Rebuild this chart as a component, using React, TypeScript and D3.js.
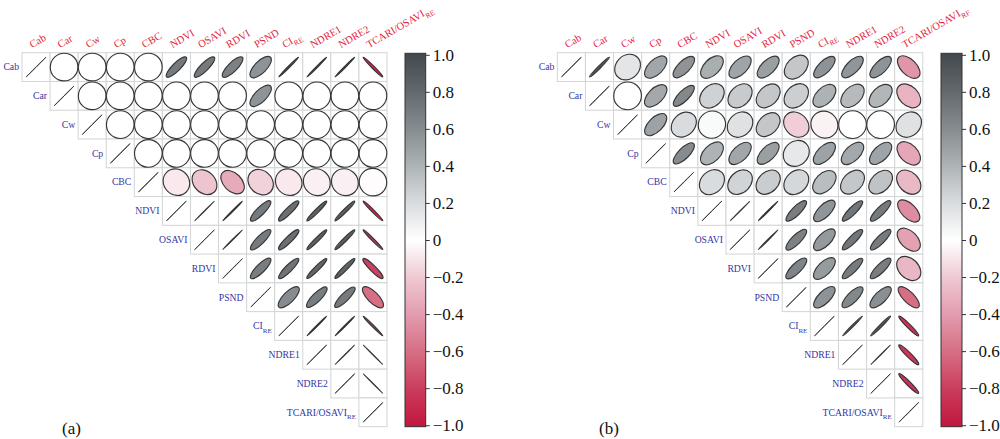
import React, { useEffect, useRef } from 'react';
import * as d3 from 'd3';

// variable names, with optional subscript
const varNames = ['Cab', 'Car', 'Cw', 'Cp', 'CBC', 'NDVI', 'OSAVI', 'RDVI', 'PSND', 'CI', 'NDRE1', 'NDRE2', 'TCARI/OSAVI'];
const rowSubs = ['', '', '', '', '', '', '', '', '', 'RE', '', '', 'RE'];
const headerSubsA = ['', '', '', '', '', '', '', '', '', 'RE', '', '', 'RE'];
const headerSubsB = ['', '', '', '', '', '', '', '', '', 'RE', '', '', 'RF'];

// upper triangle, each row starts at the diagonal
const corrA = [
  [1, 0, 0, 0, 0, 0.7, 0.7, 0.66, 0.56, 0.93, 0.94, 0.94, -0.9],
  [1, 0, 0, 0, 0, 0, 0, 0.56, 0, 0, 0, 0],
  [1, 0, 0, 0, 0, 0, 0, 0, 0, 0, 0],
  [1, 0, 0, 0, 0, 0, 0, 0, 0, 0],
  [1, -0.08, -0.22, -0.34, -0.17, -0.08, -0.06, -0.06, -0.01],
  [1, 0.99, 0.95, 0.7, 0.76, 0.85, 0.86, -0.9],
  [1, 0.97, 0.7, 0.76, 0.85, 0.86, -0.9],
  [1, 0.68, 0.74, 0.82, 0.83, -0.78],
  [1, 0.6, 0.68, 0.7, -0.6],
  [1, 0.95, 0.95, -0.92],
  [1, 0.995, -0.985],
  [1, -0.985],
  [1],
];

const corrB = [
  [1, 0.9, 0.15, 0.46, 0.56, 0.42, 0.47, 0.5, 0.3, 0.56, 0.55, 0.56, -0.43],
  [1, 0, 0.45, 0.62, 0.25, 0.28, 0.3, 0.26, 0.4, 0.36, 0.38, -0.3],
  [1, 0.48, 0.2, 0.03, 0.17, 0.3, -0.18, -0.05, 0, 0, 0.17],
  [1, 0.6, 0.4, 0.46, 0.5, 0.13, 0.48, 0.45, 0.47, -0.35],
  [1, 0.2, 0.24, 0.27, 0.22, 0.35, 0.3, 0.32, -0.27],
  [1, 0.99, 0.95, 0.68, 0.55, 0.72, 0.7, -0.47],
  [1, 0.96, 0.66, 0.53, 0.72, 0.7, -0.38],
  [1, 0.64, 0.52, 0.7, 0.68, -0.28],
  [1, 0.56, 0.62, 0.58, -0.6],
  [1, 0.93, 0.9, -0.85],
  [1, 0.99, -0.82],
  [1, -0.84],
  [1],
];

const colorTicks = [-1, -0.8, -0.6, -0.4, -0.2, 0, 0.2, 0.4, 0.6, 0.8, 1];
const colorStops = [-1, -0.8, -0.6, -0.4, -0.2, 0, 0.2, 0.4, 0.6, 0.8, 1];
const colorHex = ['#c1173f', '#cb3c5c', '#d66e84', '#e29cae', '#efc9d3', '#ffffff', '#d9dcde', '#adb2b5', '#868b8f', '#62686b', '#42484b'];

const panels = [
  { corr: corrA, headerSubs: headerSubsA, gx: 22, gy: 52.7, gw: 365, gh: 374, bx: 405, bw: 20.7, tag: '(a)', tagX: 62 },
  { corr: corrB, headerSubs: headerSubsB, gx: 557.3, gy: 52.7, gw: 365.5, gh: 374, bx: 941, bw: 21, tag: '(b)', tagX: 599 },
];

const serifFont = "'Liberation Serif', 'Times New Roman', Times, serif";

function addLabel(sel: any, name: string, sub: string, subSize: number) {
  sel.append('tspan').text(name);
  if (sub) sel.append('tspan').style('font-size', `${subSize}px`).attr('dy', 3.5).text(sub);
}

export default function App() {
  const svgRef = useRef<SVGSVGElement>(null);

  useEffect(() => {
    if (!svgRef.current) return;
    const svg = d3.select(svgRef.current);
    svg.selectAll('*').remove();

    const color = d3.scaleLinear<string>().domain(colorStops).range(colorHex).clamp(true);
    const n = varNames.length;
    const defs = svg.append('defs');

    panels.forEach((p, pi) => {
      const g = svg.append('g');
      const x = d3.scaleBand<number>().domain(d3.range(n)).range([p.gx, p.gx + p.gw]);
      const y = d3.scaleBand<number>().domain(d3.range(n)).range([p.gy, p.gy + p.gh]);
      const cw = x.bandwidth();
      const ch = y.bandwidth();
      const s = Math.min(cw, ch);

      const cells = p.corr.flatMap((row, i) => row.map((r, k) => ({ i, j: i + k, r })));

      // cell grid
      g.append('g').selectAll('rect').data(cells).join('rect')
        .attr('x', d => x(d.j)!)
        .attr('y', d => y(d.i)!)
        .attr('width', cw)
        .attr('height', ch)
        .attr('fill', '#fff')
        .attr('stroke', '#d2d4d6')
        .attr('stroke-width', 1);

      // correlation ellipses (a zero minor axis would not render, so keep a hairline)
      g.append('g').selectAll('ellipse').data(cells).join('ellipse')
        .attr('cx', 0)
        .attr('cy', 0)
        .attr('rx', s * 0.495)
        .attr('ry', d => Math.max(0.15, (1 - Math.abs(d.r) - 0.01) * s * 0.495))
        .attr('transform', d => `translate(${x(d.j)! + cw / 2},${y(d.i)! + ch / 2}) rotate(${d.r >= 0 ? -45 : 45})`)
        .attr('fill', d => color(d.r))
        .attr('stroke', '#363636')
        .attr('stroke-width', d => (d.i === d.j ? 0.8 : 1.15));

      // column labels
      varNames.forEach((name, j) => {
        const t = g.append('text')
          .attr('transform', `translate(${x(j)! + cw / 2 - 4},${p.gy - 4.5}) rotate(-30)`)
          .style('font-family', serifFont)
          .style('font-size', '10.5px')
          .attr('fill', '#e3213e');
        addLabel(t, name, p.headerSubs[j], 7.5);
      });

      // row labels
      varNames.forEach((name, i) => {
        const t = g.append('text')
          .attr('x', x(i)! - 3)
          .attr('y', y(i)! + ch / 2 + 3.3)
          .attr('text-anchor', 'end')
          .style('font-family', serifFont)
          .style('font-size', '9.7px')
          .attr('fill', '#3535a3');
        addLabel(t, name, rowSubs[i], 7);
      });

      // colour bar
      const gradId = `cbar-${pi}`;
      const grad = defs.append('linearGradient')
        .attr('id', gradId)
        .attr('x1', 0).attr('y1', 1).attr('x2', 0).attr('y2', 0);
      colorStops.forEach((v, k) => {
        grad.append('stop')
          .attr('offset', `${((v + 1) / 2) * 100}%`)
          .attr('stop-color', colorHex[k]);
      });
      const barTop = 53.3;
      const barBottom = 426.7;
      g.append('rect')
        .attr('x', p.bx)
        .attr('y', barTop)
        .attr('width', p.bw)
        .attr('height', barBottom - barTop)
        .attr('fill', `url(#${gradId})`)
        .attr('stroke', '#333')
        .attr('stroke-width', 1);

      const cScale = d3.scaleLinear().domain([-1, 1]).range([barBottom - 1.5, barTop + 1.5]);
      const axis = g.append('g')
        .attr('transform', `translate(${p.bx + p.bw},0)`)
        .call(d3.axisRight(cScale)
          .tickValues(colorTicks)
          .tickSize(4)
          .tickPadding(3)
          .tickFormat(d => (+d === 0 ? '0' : d3.format('.1f')(+d))));
      axis.select('.domain').remove();
      axis.selectAll('line').attr('stroke', '#333');
      axis.attr('font-family', null).attr('font-size', null);
      axis.selectAll('text')
        .style('font-family', serifFont)
        .style('font-size', '17px')
        .attr('fill', '#111');

      // panel tag
      g.append('text')
        .attr('x', p.tagX)
        .attr('y', 434)
        .style('font-family', serifFont)
        .style('font-size', '17px')
        .attr('fill', '#111')
        .text(p.tag);
    });
  }, []);

  return (
    <svg
      ref={svgRef}
      width={1000}
      height={439}
      style={{ position: 'absolute', left: 0, top: 0, background: '#fff' }}
    />
  );
}
